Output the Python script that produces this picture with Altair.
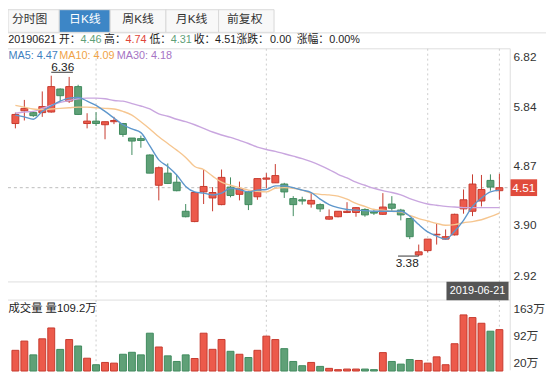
import altair as alt
import pandas as pd

# ---------------- data ----------------
opens = [5.57, 5.78, 5.75, 5.75, 5.76, 6.14, 5.94, 6.18, 5.57, 5.61,
         5.55, 5.60, 5.57, 5.33, 5.32, 5.05, 4.55, 4.75, 4.60, 4.12,
         3.95, 4.44, 4.34, 4.23, 4.52, 4.40, 4.44, 4.36, 4.65, 4.59,
         4.57, 4.33, 4.31, 4.24, 4.23, 3.99, 4.03, 4.10, 4.10, 4.15,
         4.11, 4.07, 4.24, 4.14, 4.00, 3.40, 3.47, 3.73, 3.66, 3.73,
         4.16, 4.12, 4.29, 4.63, 4.46]
closes = [5.72, 5.82, 5.70, 5.85, 6.18, 6.03, 6.18, 5.72, 5.61, 5.57,
          5.60, 5.62, 5.39, 5.28, 5.29, 4.75, 4.84, 4.58, 4.46, 4.03,
          4.43, 4.53, 4.43, 4.68, 4.38, 4.49, 4.23, 4.66, 4.67, 4.71,
          4.44, 4.23, 4.29, 4.30, 4.16, 4.03, 4.12, 4.12, 4.18, 4.06,
          4.09, 4.19, 4.17, 4.06, 3.70, 3.45, 3.66, 3.74, 3.70, 4.07,
          4.31, 4.57, 4.48, 4.52, 4.51]
highs = [5.75, 5.96, 5.77, 6.10, 6.36, 6.15, 6.34, 6.21, 5.74, 5.76,
         5.60, 5.68, 5.58, 5.33, 5.37, 5.06, 4.86, 4.91, 4.72, 4.24,
         4.43, 4.81, 4.52, 4.81, 4.68, 4.61, 4.46, 4.66, 4.75, 4.90,
         4.59, 4.37, 4.36, 4.43, 4.25, 4.15, 4.12, 4.27, 4.19, 4.17,
         4.16, 4.42, 4.37, 4.16, 4.01, 3.57, 3.66, 3.92, 3.82, 4.08,
         4.48, 4.73, 4.72, 4.73, 4.74]
lows = [5.49, 5.62, 5.68, 5.68, 5.75, 5.94, 5.91, 5.71, 5.49, 5.53,
        5.31, 5.56, 5.35, 5.05, 5.17, 4.75, 4.30, 4.57, 4.45, 4.02,
        3.94, 4.24, 4.12, 4.22, 4.35, 4.30, 4.14, 4.31, 4.50, 4.59,
        4.34, 4.04, 4.23, 4.18, 4.11, 3.98, 4.02, 4.09, 4.03, 4.03,
        4.06, 4.06, 4.11, 3.97, 3.66, 3.38, 3.44, 3.57, 3.65, 3.72,
        4.08, 4.04, 4.20, 4.46, 4.31]
volumes = [54.6, 79, 42.6, 85, 113.6, 57, 83, 66, 33.8, 16.6,
           22.6, 20.8, 44.2, 49.4, 42.6, 99.8, 63.4, 40, 25.2, 42.6,
           33, 99.8, 57.2, 83.2, 52, 44.2, 35.6, 54.6, 92, 83,
           59, 25.2, 14, 22.6, 12.2, 7, 3.6, 5.2, 5.2, 5.2,
           3.6, 48.6, 25.2, 18.2, 30.4, 27.8, 20.8, 37.4, 16.6, 72,
           148, 141, 126, 105, 109.2]
ma5 = [5.71, 5.68, 5.64, 5.77, 5.86, 5.94, 5.99, 6.00, 5.94, 5.87,
       5.77, 5.66, 5.55, 5.48, 5.42, 5.20, 4.97, 4.86, 4.72, 4.53,
       4.44, 4.42, 4.39, 4.42, 4.50, 4.48, 4.44, 4.47, 4.48, 4.54,
       4.54, 4.51, 4.47, 4.43, 4.32, 4.23, 4.18, 4.15, 4.14, 4.13,
       4.12, 4.12, 4.12, 4.12, 4.04, 3.90, 3.78, 3.71, 3.66, 3.79,
       3.97, 4.20, 4.34, 4.44, 4.47]
ma10 = [5.87, 5.84, 5.81, 5.80, 5.81, 5.82, 5.83, 5.84, 5.84, 5.83,
        5.82, 5.81, 5.77, 5.71, 5.60, 5.48, 5.35, 5.24, 5.13, 5.01,
        4.86, 4.81, 4.70, 4.60, 4.55, 4.51, 4.47, 4.45, 4.44, 4.50,
        4.51, 4.50, 4.47, 4.42, 4.40, 4.39, 4.37, 4.32, 4.25, 4.20,
        4.15, 4.14, 4.12, 4.11, 4.05, 4.00, 3.96, 3.92, 3.89, 3.90,
        3.93, 3.95, 3.98, 4.03, 4.09]
ma30 = [5.74, 5.76, 5.77, 5.82, 5.87, 5.92, 5.95, 5.98, 5.99, 5.99,
        5.98, 5.95, 5.94, 5.90, 5.86, 5.81, 5.73, 5.69, 5.64, 5.60,
        5.55, 5.49, 5.43, 5.38, 5.34, 5.29, 5.24, 5.18, 5.14, 5.11,
        5.07, 5.03, 4.99, 4.94, 4.88, 4.81, 4.73, 4.67, 4.60, 4.55,
        4.50, 4.46, 4.43, 4.39, 4.33, 4.28, 4.24, 4.22, 4.20, 4.19,
        4.18, 4.18, 4.18, 4.18, 4.18]

date_label = "2019-06-21"
price_ticks = [2.92, 3.895, 4.87, 5.845, 6.82]
price_tick_labels = ["2.92", "3.90", "4.87", "5.84", "6.82"]
vol_ticks = [20, 92, 163]
vol_tick_labels = ["20万", "92万", "163万"]
tabs = ["分时图", "日K线", "周K线", "月K线", "前复权"]
separator_idx = [9, 28, 46]
header_segments = ["20190621", "开：", "4.46", "高：", "4.74", "低：", "4.31",
                   "收：", "4.51", "涨跌：", "0.00", "涨幅：", "0.00%"]
ma_labels = ["MA5: 4.47", "MA10: 4.09", "MA30: 4.18"]
vol_title = "成交量 量109.2万"

# ---------------- styling / layout ----------------
RED = "#ec5a4b"
RED_S = "#c73a2e"
GRN = "#5fa077"
GRN_S = "#3f8a5d"
FONT = "Liberation Sans, Noto Sans CJK SC, sans-serif"
W, H = 546, 365

n = len(opens)
df = pd.DataFrame({
    "idx": list(range(n)), "open": opens, "close": closes, "high": highs,
    "low": lows, "vol": volumes, "ma5": ma5, "ma10": ma10, "ma30": ma30,
})
one = pd.DataFrame({"a": [0]})

xs = alt.Scale(domain=[0, n - 1], range=[2.5, 503.7])
ps = alt.Scale(domain=[2.92, 6.82], range=[277.3, 37.74], zero=False, nice=False)
vs = alt.Scale(domain=[0, 163], range=[365.7, 303.0], zero=False, nice=False)
X = alt.X("idx:Q", scale=xs, axis=None)

up = "datum.close >= datum.open"
fill_c = alt.condition(up, alt.value(RED), alt.value(GRN))
stroke_c = alt.condition(up, alt.value(RED_S), alt.value(GRN_S))

layers = []

# tabs
tab_edges = [0, 52, 103.7, 160.3, 213.7, 270]
tab_centers = [22, 78, 132, 186.3, 240.3]
layers.append(alt.Chart(one).mark_rect(color="#ffffff").encode(
    x=alt.value(0), x2=alt.value(W), y=alt.value(0), y2=alt.value(22)))
for i, t in enumerate(tabs):
    sel = i == 1
    layers.append(alt.Chart(one).mark_rect(
        fill="#3d86c6" if sel else "#f8f8f8", stroke="#d8d8d8", strokeWidth=1).encode(
        x=alt.value(tab_edges[i]), x2=alt.value(tab_edges[i + 1]),
        y=alt.value(-1), y2=alt.value(22)))
    layers.append(alt.Chart(one).mark_text(
        text=t, font=FONT, fontSize=12, align="center", baseline="middle",
        color="#ffffff" if sel else "#333333").encode(
        x=alt.value(tab_centers[i]), y=alt.value(9)))

# frame lines
def hline(y, x1, x2, color="#dddddd"):
    return alt.Chart(one).mark_rule(color=color, strokeWidth=1).encode(
        x=alt.value(x1), x2=alt.value(x2), y=alt.value(y))

layers.append(hline(22.5, 0, W))
layers.append(hline(38.7, 0, 509.7))
layers.append(hline(275.3, 0, 509.7))
layers.append(hline(293.7, 0, 509.7))
layers.append(alt.Chart(one).mark_rule(color="#dddddd").encode(
    x=alt.value(509.7), y=alt.value(38.7), y2=alt.value(H)))

# header row
seg_x = [0.2, 51.8, 73.5, 97.5, 119.2, 143.5, 165.2, 188.5, 210.2, 231.8, 266, 293, 326]
seg_col = ["#222", "#222", GRN, "#222", "#e0453a", "#222", GRN, "#222", "#222",
           "#222", "#222", "#222", "#222"]
for t, xx, c in zip(header_segments, seg_x, seg_col):
    layers.append(alt.Chart(one).mark_text(
        text=t, font=FONT, fontSize=11, align="left", baseline="middle", color=c).encode(
        x=alt.value(xx), y=alt.value(30)))

# MA labels
ma_x = [0.5, 52, 110.3]
ma_col = ["#3f7fbf", "#f0a347", "#a674c4"]
for t, xx, c in zip(ma_labels, ma_x, ma_col):
    layers.append(alt.Chart(one).mark_text(
        text=t, font=FONT, fontSize=11, align="left", baseline="middle", color=c).encode(
        x=alt.value(xx), y=alt.value(46.5)))

# vertical dotted separators + crosshair
sep_df = pd.DataFrame({"idx": separator_idx + [n - 1]})
layers.append(alt.Chart(sep_df).mark_rule(color="#cccccc", strokeDash=[2, 3]).encode(
    x=X, y=alt.value(38.7), y2=alt.value(H)))

# horizontal crosshair at last close
last = df.tail(1)
layers.append(alt.Chart(last).mark_rule(color="#bbbbbb", strokeDash=[3, 3]).encode(
    y=alt.Y("close:Q", scale=ps, axis=None), x=alt.value(0), x2=alt.value(509.7)))

# candles
base = alt.Chart(df)
layers.append(base.mark_rule(strokeWidth=1).encode(
    x=X, y=alt.Y("low:Q", scale=ps, axis=None), y2="high:Q", color=stroke_c))
layers.append(base.mark_bar(size=7, strokeWidth=1, orient="vertical").encode(
    x=X, y=alt.Y("open:Q", scale=ps, axis=None), y2="close:Q",
    fill=fill_c, stroke=stroke_c))

# MA lines
for col, c in [("ma30", "#c9a6df"), ("ma10", "#f6c690"), ("ma5", "#5e97cc")]:
    layers.append(base.mark_line(strokeWidth=1.4, color=c, interpolate="monotone").encode(
        x=X, y=alt.Y(f"{col}:Q", scale=ps, axis=None)))

# max / min annotations
imax = highs.index(max(highs))
imin = lows.index(min(lows))
mx = pd.DataFrame({"idx": [imax], "v": [highs[imax]], "t": [f"{highs[imax]:.2f}"]})
mn = pd.DataFrame({"idx": [imin], "v": [lows[imin]], "t": [f"{lows[imin]:.2f}"]})
layers.append(alt.Chart(mx).mark_rule(color="#333", x2Offset=22, yOffset=-3.5).encode(
    x=X, x2="idx:Q", y=alt.Y("v:Q", scale=ps, axis=None)))
layers.append(alt.Chart(mx).mark_text(font=FONT, fontSize=12, align="left",
                                      baseline="alphabetic", dy=-5, color="#222").encode(
    x=X, y=alt.Y("v:Q", scale=ps, axis=None), text="t:N"))
layers.append(alt.Chart(mn).mark_rule(color="#333", x2Offset=-21).encode(
    x=X, x2="idx:Q", y=alt.Y("v:Q", scale=ps, axis=None)))
layers.append(alt.Chart(mn).mark_text(font=FONT, fontSize=12, align="right",
                                      baseline="alphabetic", dy=11, color="#222").encode(
    x=X, y=alt.Y("v:Q", scale=ps, axis=None), text="t:N"))

# price axis labels
pt = pd.DataFrame({"v": price_ticks, "label": price_tick_labels, "i": list(range(len(price_ticks)))})
ptxt = alt.Chart(pt)
layers.append(ptxt.mark_text(font=FONT, fontSize=12, align="left", baseline="middle",
                             color="#333").encode(
    x=alt.value(513), y=alt.Y("v:Q", scale=ps, axis=None), text="label:N"
).transform_filter("datum.i > 0 && datum.i < 4"))
layers.append(ptxt.mark_text(font=FONT, fontSize=12, align="left", baseline="top", dy=4,
                             color="#333").encode(
    x=alt.value(513), y=alt.Y("v:Q", scale=ps, axis=None), text="label:N"
).transform_filter("datum.i == 4"))
layers.append(ptxt.mark_text(font=FONT, fontSize=12, align="left", baseline="bottom", dy=-1,
                             color="#333").encode(
    x=alt.value(513), y=alt.Y("v:Q", scale=ps, axis=None), text="label:N"
).transform_filter("datum.i == 0"))

# price badge
layers.append(alt.Chart(last).mark_rect(color="#e04b3c", yOffset=-8.5, y2Offset=8.5).encode(
    x=alt.value(510), x2=alt.value(537),
    y=alt.Y("close:Q", scale=ps, axis=None), y2="close:Q"))
layers.append(alt.Chart(last.assign(t=f"{closes[-1]:.2f}")).mark_text(
    font=FONT, fontSize=12, align="center", baseline="middle", color="#ffffff").encode(
    x=alt.value(523.5), y=alt.Y("close:Q", scale=ps, axis=None), text="t:N"))

# date badge
layers.append(alt.Chart(one).mark_rect(color="#555555").encode(
    x=alt.value(445), x2=alt.value(508), y=alt.value(275), y2=alt.value(294)))
layers.append(alt.Chart(one).mark_text(
    text=date_label, font=FONT, fontSize=11, align="center", baseline="middle",
    color="#ffffff").encode(x=alt.value(476.5), y=alt.value(284.8)))

# volume
layers.append(alt.Chart(one).mark_text(
    text=vol_title, font=FONT, fontSize=11.5, align="left", baseline="middle",
    color="#222").encode(x=alt.value(0.5), y=alt.value(302.5)))
layers.append(base.mark_bar(size=7, strokeWidth=1, orient="vertical").encode(
    x=X, y=alt.Y("vol:Q", scale=vs, axis=None), y2=alt.datum(0),
    fill=fill_c, stroke=stroke_c))
vt = pd.DataFrame({"v": vol_ticks, "label": vol_tick_labels})
layers.append(alt.Chart(vt).mark_text(font=FONT, fontSize=12, align="left",
                                      baseline="middle", color="#333").encode(
    x=alt.value(513), y=alt.Y("v:Q", scale=vs, axis=None), text="label:N"))

chart = alt.layer(*layers).resolve_scale(
    y="independent", fill="independent", stroke="independent", color="independent"
).properties(
    width=W, height=H, padding=0,
    autosize=alt.AutoSizeParams(type="none"),
    background="#ffffff",
).configure_view(stroke=None)

chart.save("out.html", embed_options={"renderer": "svg", "actions": False})
